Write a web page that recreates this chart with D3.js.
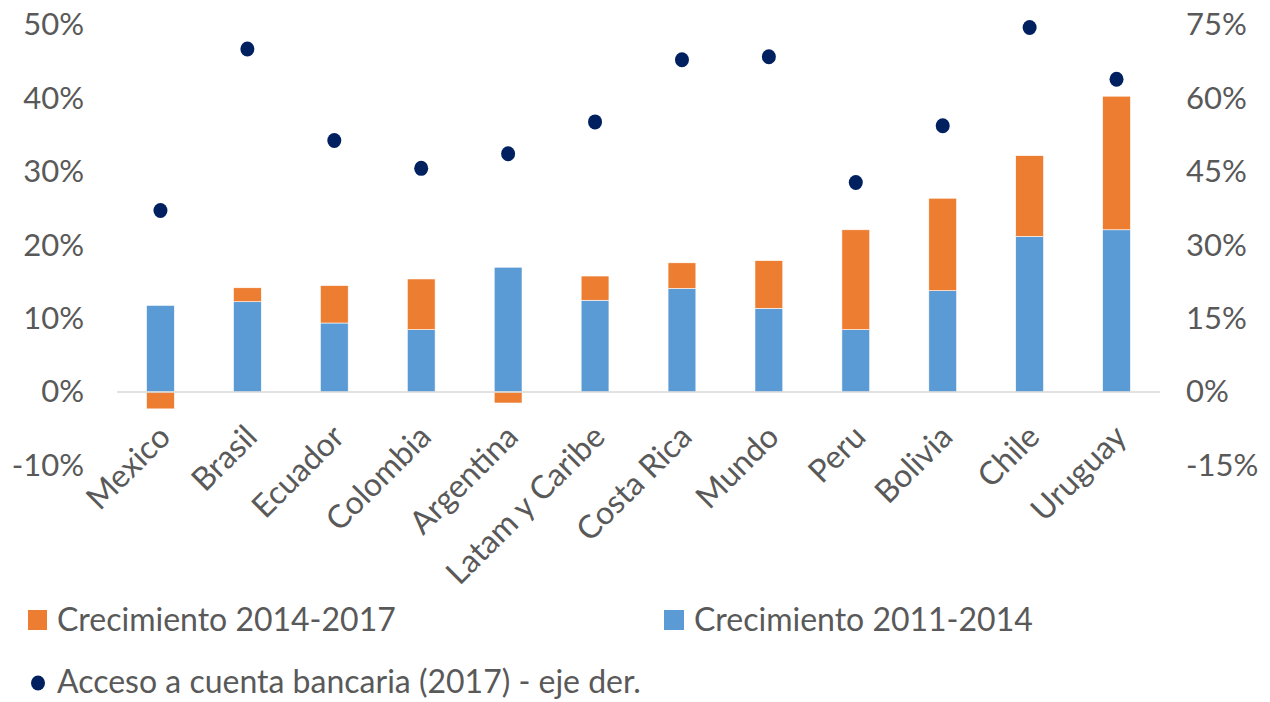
<!DOCTYPE html>
<html><head><meta charset="utf-8">
<script src="https://cdn.jsdelivr.net/npm/d3@7"></script>
<style>
body{margin:0;background:#fff;}
text{font-family:Lato,"Open Sans",sans-serif;fill:#595959;}
</style></head>
<body><svg id="c" width="1270" height="702"></svg>
<script>
const categories = ["Mexico","Brasil","Ecuador","Colombia","Argentina","Latam y Caribe","Costa Rica","Mundo","Peru","Bolivia","Chile","Uruguay"];
const growth2011_2014 = [11.8,12.3,9.4,8.5,17.0,12.5,14.1,11.4,8.5,13.8,21.2,22.1];
const growth2014_2017 = [-2.3,1.9,5.1,6.9,-1.5,3.3,3.5,6.5,13.6,12.6,11.0,18.2];
const access2017 = [37.1,70.1,51.4,45.7,48.7,55.2,67.9,68.5,42.8,54.4,74.5,63.9];
const leftTicks = [-10,0,10,20,30,40,50];
const rightTicks = [-15,0,15,30,45,60,75];
const seriesNames = ["Crecimiento 2014-2017","Crecimiento 2011-2014","Acceso a cuenta bancaria (2017) - eje der."];
const colors = {orange:"#ED7D31", blue:"#5B9BD5", dot:"#002060", axis:"#D9D9D9"};

const svg = d3.select("#c");
const x = d3.scaleBand().domain(categories).range([117,1160]).padding(0);
const y = d3.scaleLinear().domain([-10,50]).range([465.4,25]);
const yR = d3.scaleLinear().domain([-15,75]).range([465.4,25]);
const bw = x.bandwidth()*0.32;
const fs = 31;
const fsL = 32;

// left axis
const gl = svg.append("g").attr("transform","translate(84,0)")
  .call(d3.axisLeft(y).tickValues(leftTicks).tickFormat(d=>d+"%").tickSize(0).tickPadding(0));
gl.select(".domain").remove();
gl.selectAll("text").style("font-size",fs+"px").style("font-family","Lato").attr("fill","#595959");

const gr = svg.append("g").attr("transform","translate(1186,0)")
  .call(d3.axisRight(yR).tickValues(rightTicks).tickFormat(d=>d+"%").tickSize(0).tickPadding(0));
gr.select(".domain").remove();
gr.selectAll("text").style("font-size",fs+"px").style("font-family","Lato").attr("fill","#595959");

// bars
const data = categories.map((c,i)=>({c, a:growth2011_2014[i], b:growth2014_2017[i], d:access2017[i]}));
svg.append("g").selectAll("rect").data(data).join("rect")
  .attr("x",d=>x(d.c)+x.bandwidth()/2-bw/2).attr("width",bw)
  .attr("y",d=>y(d.a)).attr("height",d=>y(0)-y(d.a))
  .attr("fill",colors.blue).attr("stroke","#fff").attr("stroke-width",0.6);
svg.append("g").selectAll("rect").data(data).join("rect")
  .attr("x",d=>x(d.c)+x.bandwidth()/2-bw/2).attr("width",bw)
  .attr("y",d=>d.b>=0 ? y(d.a+d.b) : y(0))
  .attr("height",d=>d.b>=0 ? y(d.a)-y(d.a+d.b) : y(d.b)-y(0))
  .attr("fill",colors.orange).attr("stroke","#fff").attr("stroke-width",0.6);

// zero line
svg.append("line").attr("x1",117).attr("x2",1160).attr("y1",y(0)).attr("y2",y(0))
  .attr("stroke",colors.axis).attr("stroke-width",1.5);

// dots
svg.append("g").selectAll("ellipse").data(data).join("ellipse")
  .attr("cx",d=>x(d.c)+x.bandwidth()/2).attr("cy",d=>yR(d.d)).attr("rx",7).attr("ry",7.5)
  .attr("fill",colors.dot);

// category labels
svg.append("g").selectAll("text").data(categories).join("text")
  .attr("transform",d=>`translate(${x(d)+x.bandwidth()/2-4},${423}) rotate(-45)`)
  .attr("text-anchor","end").attr("dy","0.7em")
  .style("font-size",fsL+"px").text(d=>d);

// legend
const lg = svg.append("g");
lg.append("rect").attr("x",28).attr("y",610).attr("width",19).attr("height",20).attr("fill",colors.orange);
lg.append("text").attr("x",57).attr("y",631).style("font-size",fsL+"px").text(seriesNames[0]);
lg.append("rect").attr("x",664).attr("y",610).attr("width",20).attr("height",20).attr("fill",colors.blue);
lg.append("text").attr("x",694).attr("y",631).style("font-size",fsL+"px").text(seriesNames[1]);
lg.append("ellipse").attr("cx",38).attr("cy",683).attr("rx",7).attr("ry",7.5).attr("fill",colors.dot);
lg.append("text").attr("x",57).attr("y",693).style("font-size",fsL+"px").text(seriesNames[2]);
</script></body></html>
